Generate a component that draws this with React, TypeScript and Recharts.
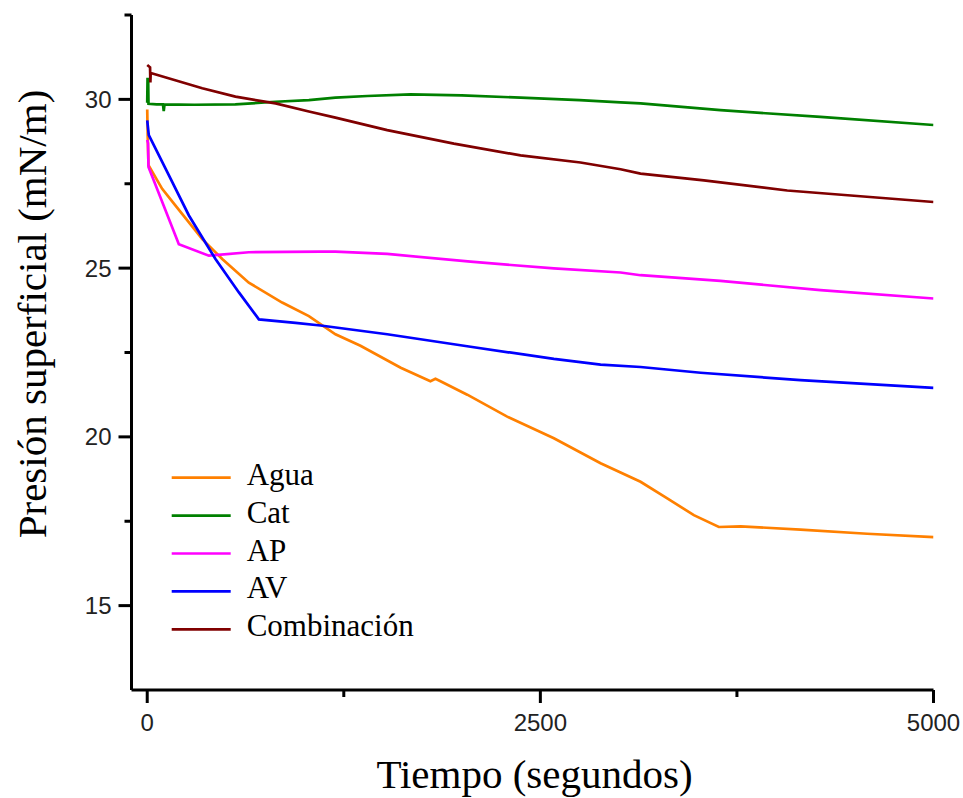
import React from 'react';
import { LineChart, Line, XAxis, YAxis, Legend } from 'recharts';

// time (s) vs surface pressure (mN/m)
const xTicks = [0, 1250, 2500, 3750, 5000];
const yTicks = [15, 17.5, 20, 22.5, 25, 27.5, 30, 32.5];

const agua: [number, number][] = [
  [0, 29.7], [3, 28.9], [8, 28.05], [95, 27.35], [180, 26.85], [350, 25.86],
  [477, 25.27], [646, 24.57], [858, 23.98], [1028, 23.58], [1197, 23.04],
  [1356, 22.7], [1612, 22.05], [1801, 21.65], [1833, 21.72], [1865, 21.65],
  [2035, 21.25], [2289, 20.6], [2586, 19.96], [2883, 19.22], [3137, 18.67],
  [3307, 18.18], [3476, 17.68], [3635, 17.33], [3773, 17.35], [4154, 17.25],
  [4578, 17.13], [5000, 17.03],
];

const cat: [number, number][] = [
  [0, 29.9], [2, 30.6], [6, 30.6], [8, 29.87], [60, 29.85], [100, 29.85],
  [105, 29.65], [110, 29.85], [300, 29.84], [560, 29.85], [816, 29.93],
  [1028, 29.98], [1197, 30.05], [1400, 30.1], [1675, 30.15], [2000, 30.12],
  [2374, 30.05], [2750, 29.98], [3010, 29.91], [3137, 29.88], [3645, 29.68],
  [4281, 29.48], [5000, 29.24],
];

const ap: [number, number][] = [
  [0, 28.8], [5, 28.7], [8, 28.0], [201, 25.71], [392, 25.37], [646, 25.47],
  [1102, 25.49], [1197, 25.49], [1526, 25.42], [2056, 25.19], [2586, 24.99],
  [3010, 24.87], [3137, 24.79], [3645, 24.62], [4281, 24.35], [5000, 24.1],
];

const av: [number, number][] = [
  [0, 29.38], [10, 28.94], [138, 27.75], [265, 26.56], [434, 25.27],
  [583, 24.28], [710, 23.48], [943, 23.38], [1102, 23.3], [1526, 23.04],
  [2056, 22.67], [2586, 22.31], [2883, 22.14], [3137, 22.07], [3519, 21.9],
  [4154, 21.68], [5000, 21.45],
];

const combinacion: [number, number][] = [
  [0, 31.02], [18, 30.95], [20, 30.5], [22, 30.78], [60, 30.73], [350, 30.33],
  [561, 30.08], [816, 29.88], [1028, 29.64], [1197, 29.46], [1526, 29.09],
  [1950, 28.69], [2374, 28.34], [2755, 28.13], [3010, 27.93], [3137, 27.8],
  [3540, 27.6], [4070, 27.3], [5000, 26.96],
];

const series = [
  { name: 'Agua', color: '#FF8000', points: agua },
  { name: 'Cat', color: '#008000', points: cat },
  { name: 'AP', color: '#FF00FF', points: ap },
  { name: 'AV', color: '#0000FF', points: av },
  { name: 'Combinación', color: '#800000', points: combinacion },
];

const SANS = '"Liberation Sans", Arial, sans-serif';
const SERIF = '"Liberation Serif", "Times New Roman", serif';

const toRows = (pts: [number, number][]) => pts.map(([t, v]) => ({ t, v }));

function XTick({ x, y, payload }: any) {
  const major = payload.value % 2500 === 0;
  return (
    <g>
      <line x1={x} x2={x} y1={y} y2={y + (major ? 13 : 7)} stroke="#000" strokeWidth={3} />
      {major && (
        <text x={x} y={y + 41} textAnchor="middle" fontFamily={SANS} fontSize={24} fill="#222">
          {payload.value}
        </text>
      )}
    </g>
  );
}

function YTick({ x, y, payload }: any) {
  const major = payload.value % 5 === 0;
  return (
    <g>
      <line x1={x - (major ? 13 : 7)} x2={x} y1={y} y2={y} stroke="#000" strokeWidth={3} />
      {major && (
        <text x={x - 20} y={y + 8.5} textAnchor="end" fontFamily={SANS} fontSize={24} fill="#222">
          {payload.value}
        </text>
      )}
    </g>
  );
}

function LegendBox() {
  return (
    <svg width={300} height={200} style={{ display: 'block' }}>
      {series.map((s, i) => {
        const ly = 27.7 + i * 37.9;
        return (
          <g key={s.name}>
            <line x1={6.7} x2={65.7} y1={ly} y2={ly} stroke={s.color} strokeWidth={2.7} />
            <text x={81.7} y={ly + 7} fontFamily={SERIF} fontSize={31} fill="#000">
              {s.name}
            </text>
          </g>
        );
      })}
    </svg>
  );
}

export default function App() {
  return (
    <div style={{ position: 'absolute', left: 0, top: 0, background: '#fff' }}>
      <LineChart width={963} height={798} margin={{ top: 15, right: 29.5, bottom: 0, left: 0 }}>
        <XAxis
          type="number"
          dataKey="t"
          domain={[-100, 5000]}
          ticks={xTicks}
          interval={0}
          height={108}
          tickSize={0}
          tickMargin={0}
          tickLine={false}
          tick={<XTick />}
          axisLine={{ stroke: '#000', strokeWidth: 3 }}
          allowDataOverflow
          label={(p: any) => (
            <text
              x={p.viewBox.x + p.viewBox.width / 2 + 2}
              y={p.viewBox.y + 98}
              textAnchor="middle"
              fontFamily={SERIF}
              fontSize={41}
              fill="#000"
            >
              Tiempo (segundos)
            </text>
          )}
        />
        <YAxis
          type="number"
          domain={[12.5, 32.5]}
          ticks={yTicks}
          interval={0}
          width={131.5}
          tickSize={0}
          tickMargin={0}
          tickLine={false}
          tick={<YTick />}
          axisLine={{ stroke: '#000', strokeWidth: 3 }}
          allowDataOverflow
          label={() => (
            <text
              x={46}
              y={314}
              transform="rotate(-90 46 314)"
              textAnchor="middle"
              fontFamily={SERIF}
              fontSize={41}
              fill="#000"
            >
              Presión superficial (mN/m)
            </text>
          )}
        />
        {series.map((s) => (
          <Line
            key={s.name}
            data={toRows(s.points)}
            dataKey="v"
            name={s.name}
            stroke={s.color}
            strokeWidth={2.7}
            dot={false}
            activeDot={false}
            isAnimationActive={false}
            type="linear"
          />
        ))}
        <Legend
          layout="vertical"
          align="center"
          verticalAlign="middle"
          content={() => <LegendBox />}
          wrapperStyle={{ left: 165, top: 450, width: 300, height: 200 }}
        />
      </LineChart>
    </div>
  );
}
